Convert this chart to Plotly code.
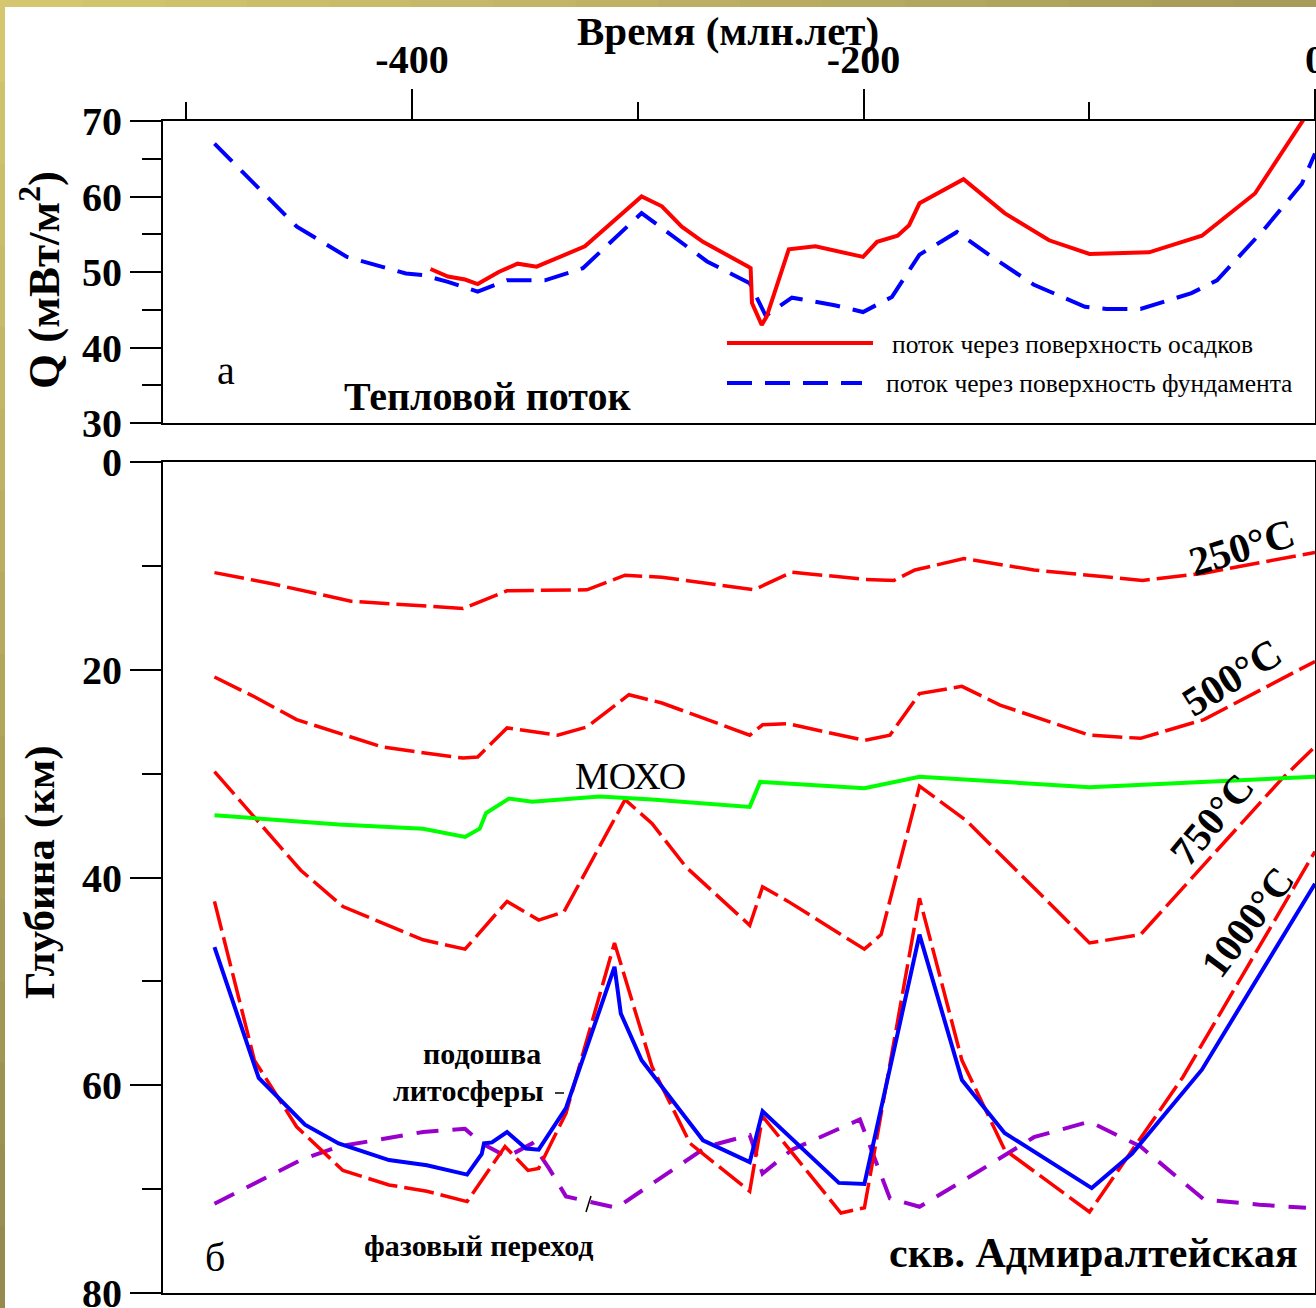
import plotly.graph_objects as go

# ---------------- data ----------------
# Top panel: heat flow Q (mW/m2) vs time (Ma)
t_base = [-487.5, -469.8, -451.0, -428.8, -402.7, -395.1, -384.1, -370.9, -357.9, -341.1, -324.3,
          -298.3, -269.3, -250.4, -243.3, -231.7, -212.8, -200.2, -187.4, -175.2, -158.6, -143.1,
          -124.5, -101.9, -92.4, -77.3, -54.7, -43.4, -22.7, -5.8, 0.0]
q_base = [67.0, 61.7, 56.0, 52.0, 49.8, 49.6, 48.7, 47.4, 48.9, 48.9, 50.5,
          57.8, 51.4, 48.5, 44.2, 46.6, 45.6, 44.7, 46.7, 52.3, 55.3, 52.0,
          48.3, 45.4, 45.1, 45.1, 47.2, 48.9, 55.6, 61.7, 65.7]

t_sed = [-391.8, -384.1, -376.5, -370.9, -361.6, -353.2, -344.8, -323.4, -298.3, -289.3, -280.5,
         -271.1, -251.0, -250.0, -249.4, -245.1, -242.9, -233.1, -221.3, -200.2, -194.0, -184.9,
         -179.8, -175.2, -155.7, -137.5, -117.8, -99.9, -73.5, -50.1, -26.6, 0.0]
q_sed = [50.4, 49.4, 49.0, 48.4, 50.0, 51.1, 50.7, 53.4, 60.0, 58.7, 56.0,
         54.0, 50.7, 50.5, 45.9, 43.0, 44.1, 53.0, 53.4, 52.0, 54.0, 54.8,
         56.2, 59.1, 62.3, 57.8, 54.2, 52.4, 52.6, 54.8, 60.4, 72.5]

# Bottom panel: depth (km) vs time (Ma)
t_250 = [-487.5, -462.5, -427.0, -395.1, -377.4, -357.9, -322.5, -305.6, -289.3, -248.5, -231.7,
         -199.6, -186.5, -177.2, -155.5, -124.5, -76.4, -49.2, 0.0]
d_250 = [10.65, 11.7, 13.4, 13.9, 14.1, 12.4, 12.3, 10.9, 11.1, 12.3, 10.6,
         11.3, 11.4, 10.4, 9.3, 10.4, 11.4, 10.7, 8.7]

t_500 = [-487.5, -469.8, -451.1, -413.8, -395.1, -377.4, -370.9, -357.9, -335.5, -322.5, -303.9,
         -289.3, -250.4, -244.7, -233.4, -199.6, -188.3, -175.2, -156.4, -139.5, -99.9, -77.3,
         -49.2, 0.0]
d_500 = [20.7, 22.6, 24.8, 27.4, 28.0, 28.5, 28.4, 25.6, 26.3, 25.5, 22.4,
         23.2, 26.3, 25.3, 25.2, 26.8, 26.3, 22.3, 21.6, 23.4, 26.3, 26.6,
         24.8, 19.2]

t_moho = [-487.5, -432.5, -395.1, -376.5, -370.0, -367.2, -357.0, -346.8, -316.9, -293.7, -250.4,
          -245.8, -199.6, -175.2, -99.9, 0.0]
d_moho = [34.0, 34.9, 35.3, 36.1, 35.3, 33.8, 32.4, 32.7, 32.2, 32.5, 33.2,
          30.8, 31.4, 30.3, 31.3, 30.3]

t_750 = [-487.5, -449.3, -430.6, -395.1, -376.5, -357.9, -343.9, -332.7, -305.6, -293.7, -278.6,
         -250.4, -244.7, -233.4, -199.6, -192.2, -175.2, -154.6, -99.9, -77.3, -15.1, 0.0]
d_750 = [29.8, 39.3, 42.8, 46.0, 46.9, 42.3, 44.1, 43.3, 32.5, 34.8, 39.0,
         44.6, 40.9, 42.3, 46.9, 45.5, 31.2, 34.5, 46.3, 45.5, 30.6, 27.4]

t_1000 = [-487.5, -469.8, -451.1, -430.6, -410.2, -393.4, -375.6, -358.8, -348.6, -343.9, -331.8,
          -310.3, -293.7, -276.8, -250.4, -244.7, -210.0, -199.6, -175.2, -156.4, -137.5, -99.9,
          -58.5, 0.0]
d_1000 = [42.3, 57.6, 64.0, 68.2, 69.6, 70.2, 71.2, 65.9, 68.2, 68.0, 62.7,
          46.3, 58.2, 65.6, 70.2, 63.0, 72.3, 71.8, 42.0, 57.6, 66.2, 72.2,
          59.2, 37.5]

t_lith = [-487.5, -467.9, -447.4, -432.5, -410.2, -393.4, -375.6, -369.1, -368.1, -364.6, -357.9,
          -349.5, -343.9, -331.8, -310.3, -307.5, -298.3, -271.1, -250.4, -244.7, -210.9, -199.6,
          -175.2, -156.4, -137.5, -98.9, -81.1, -50.1, 0.0]
d_lith = [46.7, 59.3, 63.8, 65.6, 67.2, 67.7, 68.6, 66.6, 65.6, 65.5, 64.5,
          66.1, 66.2, 62.2, 48.6, 53.1, 57.6, 65.3, 67.4, 62.5, 69.4, 69.5,
          45.5, 59.5, 64.6, 69.9, 66.6, 58.5, 40.6]

t_phase = [-487.5, -449.3, -432.5, -395.1, -376.5, -369.0, -357.9, -346.8, -339.3, -331.8, -309.4,
           -289.3, -269.3, -250.4, -244.7, -231.7, -201.6, -188.3, -175.2, -150.6, -124.5, -99.9,
           -77.3, -49.2, -24.6, -4.0]
d_phase = [71.4, 67.2, 65.9, 64.5, 64.2, 65.6, 66.9, 65.6, 68.0, 70.7, 71.8,
           68.8, 65.9, 64.8, 68.5, 66.2, 63.3, 70.9, 71.7, 68.5, 65.0, 63.5,
           65.9, 71.0, 71.5, 71.8]

x_ticks = [-400, -200, 0]
x_minor = [-500, -300, -100]
q_ticks = [30, 40, 50, 60, 70]
q_minor = [35, 45, 55, 65]
d_ticks = [0, 20, 40, 60, 80]
d_minor = [10, 30, 50, 70]

# ---------------- layout geometry (pixels) ----------------
W, H = 1316, 1308
L, R, T, B = 163, 1315, 121, 1293


def px(x):
    return (x - L) / (R - L)


def py(y):
    return (B - y) / (B - T)


SERIF = "Liberation Serif"
RED, BLUE, GREEN, PURPLE = "#FF0000", "#0000FF", "#00FF00", "#9A00CC"

fig = go.Figure()

# top panel
fig.add_trace(go.Scatter(x=t_base, y=q_base, mode="lines", xaxis="x", yaxis="y",
                         line=dict(color=BLUE, width=4, dash="25px,13px")))
fig.add_trace(go.Scatter(x=t_sed, y=q_sed, mode="lines", xaxis="x", yaxis="y",
                         line=dict(color=RED, width=4)))

# bottom panel
iso_dash = "30px,7px"
fig.add_trace(go.Scatter(x=t_phase, y=d_phase, mode="lines", xaxis="x2", yaxis="y2",
                         line=dict(color=PURPLE, width=4, dash="22px,14px")))
for tt, dd in [(t_250, d_250), (t_500, d_500), (t_750, d_750), (t_1000, d_1000)]:
    fig.add_trace(go.Scatter(x=tt, y=dd, mode="lines", xaxis="x2", yaxis="y2",
                             line=dict(color=RED, width=3.5, dash=iso_dash)))
fig.add_trace(go.Scatter(x=t_moho, y=d_moho, mode="lines", xaxis="x2", yaxis="y2",
                         line=dict(color=GREEN, width=4)))
fig.add_trace(go.Scatter(x=t_lith, y=d_lith, mode="lines", xaxis="x2", yaxis="y2",
                         line=dict(color=BLUE, width=4)))

tickfont = dict(family=SERIF, size=40, color="black", weight="bold")
xr = [-(R - L) / 2.2575, 0]

common = dict(showline=True, linecolor="black", linewidth=2, mirror=True,
              showgrid=False, zeroline=False, automargin=False)

fig.update_layout(
    width=W, height=H, autosize=False,
    margin=dict(l=L, r=W - R, t=T, b=H - B, pad=0),
    paper_bgcolor="white", plot_bgcolor="white",
    showlegend=False, hovermode=False,
    xaxis=dict(domain=[0, 1], anchor="y", side="top", range=xr,
               tickvals=x_ticks, ticktext=[str(v) for v in x_ticks],
               ticklabeloverflow="allow",
               ticks="outside", ticklen=30, tickwidth=1.5, tickcolor="black",
               minor=dict(tickvals=x_minor, ticks="outside", ticklen=17, tickwidth=1.5,
                          tickcolor="black", showgrid=False),
               tickfont=tickfont, **common),
    xaxis2=dict(domain=[0, 1], anchor="y2", matches="x", range=xr,
                showticklabels=False, ticks="", **common),
    yaxis=dict(domain=[py(423), 1], anchor="x", range=[30, 70],
               tickvals=q_ticks, ticks="outside", ticklen=31, tickwidth=1.5, tickcolor="black",
               ticklabeloverflow="allow",
               minor=dict(tickvals=q_minor, ticks="outside", ticklen=19, tickwidth=1.5,
                          tickcolor="black", showgrid=False),
               tickfont=tickfont, **common),
    yaxis2=dict(domain=[0, py(462)], anchor="x2", range=[80, 0],
                tickvals=d_ticks, ticks="outside", ticklen=31, tickwidth=1.5, tickcolor="black",
                ticklabeloverflow="allow",
                minor=dict(tickvals=d_minor, ticks="outside", ticklen=19, tickwidth=1.5,
                           tickcolor="black", showgrid=False),
                tickfont=tickfont, **common),
)


def ann(text, x, y, size=40, bold=False, angle=0, xanchor="center"):
    fig.add_annotation(text=text, x=px(x), y=py(y), xref="paper", yref="paper",
                       showarrow=False, textangle=angle, xanchor=xanchor, yanchor="middle",
                       font=dict(family=SERIF, size=size, color="black",
                                 weight="bold" if bold else "normal"))


# axis titles
ann("Время (млн.лет)", 728, 31, size=41, bold=True)
ann("Q (мВт/м<sup>2</sup>)", 40, 280, size=45, bold=True, angle=-90)
ann("Глубина (км)", 40, 872, size=43, bold=True, angle=-90)

# top panel texts
ann("а", 226, 370, size=40)
ann("Тепловой поток", 487, 397, size=40, bold=True)
ann("поток через поверхность осадков", 890, 345, size=25.5, xanchor="left")
ann("поток через поверхность фундамента", 884, 383, size=25.5, xanchor="left")

# bottom panel texts
ann("250°C", 1242, 547, size=41, bold=True, angle=-17)
ann("500°C", 1232, 677, size=41, bold=True, angle=-32)
ann("750°C", 1212, 820, size=40, bold=True, angle=-50)
ann("1000°C", 1247, 922, size=40, bold=True, angle=-53)
ann("МОХО", 630, 776, size=38)
ann("подошва", 482, 1053, size=30, bold=True)
ann("литосферы", 468, 1090, size=30, bold=True)
ann("фазовый переход", 478, 1245, size=30, bold=True)
ann("б", 215, 1257, size=40)
ann("скв. Адмиралтейская", 1093, 1253, size=42, bold=True)

shapes = []
# legend samples
shapes.append(dict(type="line", xref="paper", yref="paper", x0=px(727), x1=px(873),
                   y0=py(343), y1=py(343), line=dict(color=RED, width=4)))
shapes.append(dict(type="line", xref="paper", yref="paper", x0=px(727), x1=px(862),
                   y0=py(383), y1=py(383), line=dict(color=BLUE, width=4, dash="25px,13px")))
# small leader marks
shapes.append(dict(type="line", xref="paper", yref="paper", x0=px(555), x1=px(564),
                   y0=py(1093), y1=py(1093), line=dict(color="black", width=1.5)))
shapes.append(dict(type="line", xref="paper", yref="paper", x0=px(586), x1=px(591),
                   y0=py(1212), y1=py(1196), line=dict(color="black", width=1.5)))

# khaki slide border (top and left strips, with a slight gradient)
n = 16
c0 = (212, 199, 112)
c1 = (168, 154, 88)
c2 = (150, 138, 78)
for i in range(n):
    f = i / (n - 1)
    col = tuple(int(c0[k] + (c1[k] - c0[k]) * f) for k in range(3))
    shapes.append(dict(type="rect", xref="paper", yref="paper", layer="above",
                       x0=px(W * i / n), x1=px(min(W, W * (i + 1) / n + 1)), y0=py(7), y1=py(0),
                       fillcolor="rgb(%d,%d,%d)" % col, line=dict(width=0)))
    col2 = tuple(int(c0[k] + (c2[k] - c0[k]) * f) for k in range(3))
    shapes.append(dict(type="rect", xref="paper", yref="paper", layer="above",
                       x0=px(0), x1=px(5), y0=py(min(H, H * (i + 1) / n + 1)), y1=py(H * i / n),
                       fillcolor="rgb(%d,%d,%d)" % col2, line=dict(width=0)))
fig.update_layout(shapes=shapes)

post = (
    "document.documentElement.style.margin='0';"
    "document.documentElement.style.overflow='hidden';"
    "document.body.style.margin='0';"
    "document.body.style.overflow='hidden';"
    "var gds=document.getElementsByClassName('plotly-graph-div');"
    "for(var i=0;i<gds.length;i++){gds[i].style.overflow='hidden';"
    "var sc=gds[i].getElementsByClassName('svg-container');"
    "for(var j=0;j<sc.length;j++){sc[j].style.overflow='hidden';}}"
)
fig.write_html("out.html", config={"displayModeBar": False}, post_script=post)
